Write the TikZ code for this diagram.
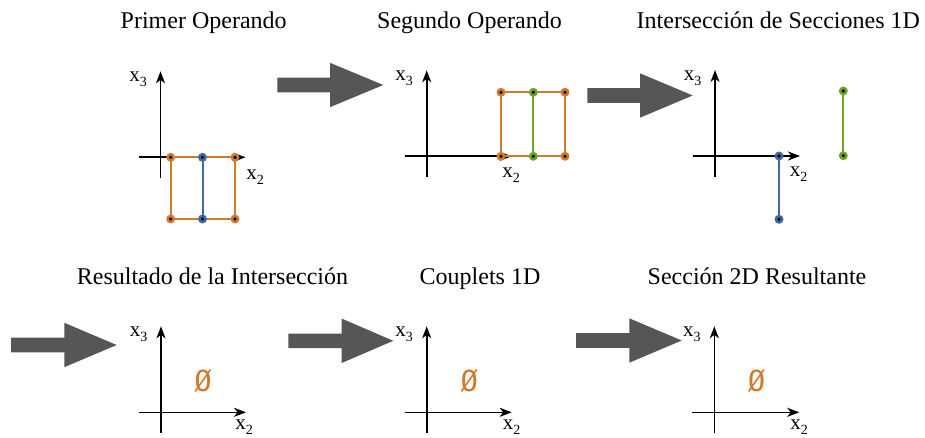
\documentclass[tikz,border=0pt]{standalone}
\usepackage{fontspec}
\setmainfont{Liberation Serif}
\newfontfamily\symfont{DejaVu Sans Mono}
\usetikzlibrary{arrows.meta}

\definecolor{secorange}{RGB}{208,122,48}
\definecolor{secblue}{RGB}{66,103,165}
\definecolor{secgreen}{RGB}{112,162,40}
\definecolor{flowgray}{RGB}{85,87,85}

\tikzset{
  axisline/.style={line width=1.6pt, -{Stealth[length=12pt,width=9pt,inset=3.5pt]}},
  title/.style={font=\fontsize{24}{24}\selectfont, anchor=base, inner sep=0pt},
  axlabel/.style={font=\fontsize{21}{21}\selectfont, inner sep=0pt},
  edge/.style={line width=2pt, draw=#1},
  vert/.style={circle, fill=black, draw=#1, line width=2.6pt, minimum size=6.2pt, inner sep=0pt},
  emptyset/.style={text=secorange, font=\symfont\fontsize{29}{29}\selectfont, inner sep=0pt}
}

% axis label: upright x with a lowered index
\newcommand\xlab[1]{x\raisebox{-5pt}{\fontsize{14}{14}\selectfont #1}}

% pair of axes: name, origin x, origin y
\newcommand\axesat[3]{%
  \coordinate (#1-o) at (#2,#3);
  \coordinate (#1-top) at (#2,#3-86);
  \coordinate (#1-bot) at (#2,#3+21);
  \coordinate (#1-left) at (#2-22,#3);
  \coordinate (#1-tip) at (#2+85,#3);
  \draw[axisline] (#1-bot) -- (#1-top);
  \draw[axisline] (#1-left) -- (#1-tip);
  \node[axlabel] (#1-x3) at (#2-22.5,#3-78) {\xlab{3}};
}

% block arrow between stages: tail x, head base x, tip x, centre y
\newcommand\stagearrow[4]{%
  \fill[flowgray] (#1,#4-7.3) -- (#2,#4-7.3) -- (#2,#4-22.2) -- (#3,#4)
    -- (#2,#4+22.2) -- (#2,#4+7.3) -- (#1,#4+7.3) -- cycle;
}

\begin{document}
\begin{tikzpicture}[x=1pt,y=-1pt]
\useasboundingbox (0,0) rectangle (925,438);

% ---------- titles ----------
\node[title] (t1) at (203.7,28.3) {Primer Operando};
\node[title] (t2) at (469.5,28.3) {Segundo Operando};
\node[title] (t3) at (778.3,28.3) {Intersección de Secciones 1D};
\node[title] (t4) at (212.5,284.7) {Resultado de la Intersección};
\node[title] (t5) at (480,284.7) {Couplets 1D};
\node[title] (t6) at (757,284.7) {Sección 2D Resultante};

% ---------- arrows between stages ----------
\stagearrow{277.3}{330}{383.3}{85}
\stagearrow{587.3}{640}{692.7}{95.5}
\stagearrow{11}{64.3}{116.7}{345}
\stagearrow{288.3}{341.7}{393.3}{340.8}
\stagearrow{576}{629.3}{681.7}{340.5}

% ---------- first operand ----------
\axesat{pa}{160.5}{157.3}
\node[axlabel] (pa-x2) at (255,176.7) {\xlab{2}};
\coordinate (a1) at (170.7,157.3);
\coordinate (a2) at (235,157.3);
\coordinate (a3) at (235,219);
\coordinate (a4) at (170.7,219);
\coordinate (a5) at (202.5,157.3);
\coordinate (a6) at (202.5,219);
\draw[edge=secorange] (a1) -- (a2) -- (a3) -- (a4) -- cycle;
\draw[edge=secblue] (a5) -- (a6);
\foreach \c in {a1,a2,a3,a4} \node[vert=secorange] (\c-v) at (\c) {};
\foreach \c in {a5,a6} \node[vert=secblue] (\c-v) at (\c) {};

% ---------- second operand ----------
\axesat{pb}{426.7}{156.3}
\node[axlabel] (pb-x2) at (511,175) {\xlab{2}};
\coordinate (b1) at (501,92.3);
\coordinate (b2) at (565,92.3);
\coordinate (b3) at (565,156.3);
\coordinate (b4) at (501,156.3);
\coordinate (b5) at (533.3,92.3);
\coordinate (b6) at (533.3,156.3);
\draw[edge=secorange] (b1) -- (b2) -- (b3) -- (b4) -- cycle;
\draw[edge=secgreen] (b5) -- (b6);
\foreach \c in {b1,b2,b3,b4} \node[vert=secorange] (\c-v) at (\c) {};
\foreach \c in {b5,b6} \node[vert=secgreen] (\c-v) at (\c) {};

% ---------- 1D section intersection ----------
\axesat{pc}{715}{156}
\node[axlabel] (pc-x2) at (798.7,174.3) {\xlab{2}};
\coordinate (c1) at (779,156);
\coordinate (c2) at (779,219.3);
\coordinate (c3) at (843.3,91);
\coordinate (c4) at (843.3,155.7);
\draw[edge=secblue] (c1) -- (c2);
\draw[edge=secgreen] (c3) -- (c4);
\foreach \c in {c1,c2} \node[vert=secblue] (\c-v) at (\c) {};
\foreach \c in {c3,c4} \node[vert=secgreen] (\c-v) at (\c) {};

% ---------- empty results ----------
\axesat{pd}{161}{412.3}
\node[axlabel] (pd-x2) at (244,427) {\xlab{2}};
\node[emptyset] (pd-e) at (203,381.3) {Ø};

\axesat{pe}{426.7}{412.3}
\node[axlabel] (pe-x2) at (511.7,427) {\xlab{2}};
\node[emptyset] (pe-e) at (469.3,381.3) {Ø};

\axesat{pf}{714.3}{412.3}
\node[axlabel] (pf-x2) at (799,427) {\xlab{2}};
\node[emptyset] (pf-e) at (756.7,381.3) {Ø};
\end{tikzpicture}
\end{document}
